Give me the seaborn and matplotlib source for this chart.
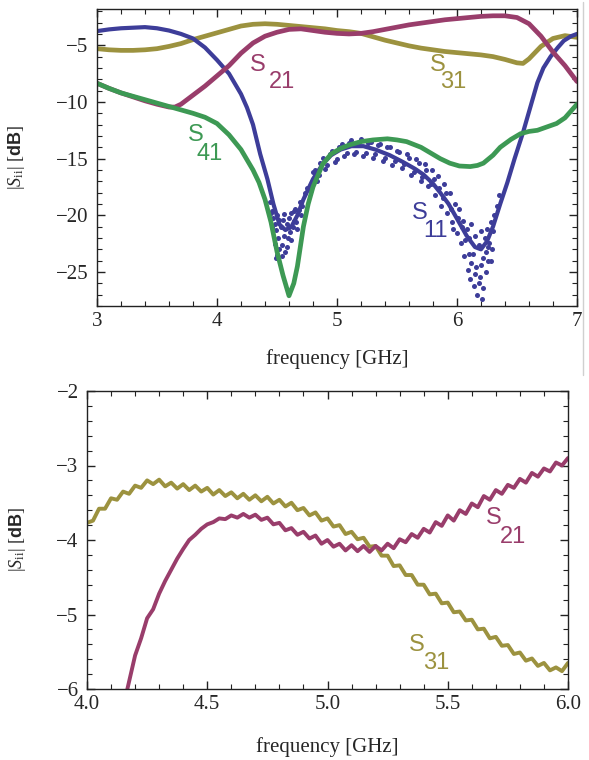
import matplotlib
matplotlib.use('Agg')
import matplotlib.pyplot as plt
import seaborn as sns
import numpy as np
from matplotlib.ticker import MultipleLocator, FuncFormatter
from matplotlib.lines import Line2D

# --- верхняя панель: S-параметры 3..7 ГГц ---
s11_freq = [3.0, 3.1, 3.2, 3.3, 3.4, 3.5, 3.6, 3.7, 3.8, 3.9, 4.0, 4.1, 4.2, 4.25, 4.3, 4.36,
            4.42, 4.47, 4.52, 4.57, 4.62, 4.67, 4.72, 4.8, 4.88, 4.95, 5.03, 5.12, 5.22, 5.32,
            5.44, 5.55, 5.65, 5.72, 5.8, 5.86, 5.93, 6.0, 6.08, 6.15, 6.2, 6.25, 6.3, 6.36,
            6.42, 6.48, 6.55, 6.61, 6.67, 6.72, 6.78, 6.84, 6.89, 6.95, 7.0]
s11_db = [-3.75, -3.6, -3.5, -3.45, -3.4, -3.5, -3.7, -4.0, -4.4, -5.2, -6.3, -7.5, -9.3, -10.5,
          -12.0, -14.6, -16.8, -19.0, -20.8, -21.3, -21.0, -20.0, -18.6, -16.8, -15.5, -14.7,
          -14.2, -13.9, -13.9, -14.2, -14.7, -15.3, -15.9, -16.4, -17.2, -18.0, -19.0, -20.3,
          -21.8, -22.8, -23.0, -22.3, -21.0, -19.0, -17.1, -15.0, -12.7, -10.5, -8.3, -7.0,
          -6.0, -5.2, -4.6, -4.2, -4.0]

# разброс точек S11 в провалах
s11_scatter_freq = [4.45, 4.46, 4.47, 4.48, 4.49, 4.50, 4.50, 4.51, 4.52, 4.53, 4.54, 4.55, 4.56,
                    4.57, 4.58, 4.59, 4.60, 4.61, 4.62, 4.63, 4.64, 4.65, 4.66, 4.68, 4.69, 4.71,
                    4.73, 4.75,
                    4.44, 4.46, 4.48, 4.49, 4.52, 4.54, 4.56, 4.58, 4.60, 4.62, 4.64, 4.67, 4.70,
                    4.80, 4.83, 4.86, 4.90, 4.94, 4.98, 5.02, 5.06, 5.10, 5.14, 5.18, 5.22, 5.26,
                    5.30, 5.34, 5.38, 5.42, 5.46, 5.50, 5.54, 5.58, 5.62, 5.66, 5.70, 5.73, 5.76,
                    5.79, 5.82, 5.84, 5.87, 5.89, 5.92,
                    4.78, 4.82, 4.85, 4.88, 4.92, 4.96, 5.00, 5.04, 5.08, 5.12, 5.16, 5.20, 5.24,
                    5.28, 5.32, 5.36, 5.40, 5.44, 5.48, 5.52, 5.56, 5.60, 5.64, 5.68, 5.71, 5.74,
                    5.78, 5.81, 5.85, 5.88, 5.91,
                    5.94, 5.96, 5.98, 6.00, 6.02, 6.03, 6.05, 6.06, 6.08, 6.09, 6.10, 6.11, 6.12,
                    6.13, 6.14, 6.15, 6.16, 6.17, 6.18, 6.19, 6.20, 6.21, 6.22, 6.23, 6.24, 6.25,
                    6.26, 6.27, 6.28, 6.29, 6.30, 6.31, 6.33, 6.35,
                    5.95, 5.97, 6.01, 6.04, 6.07, 6.10, 6.12, 6.15, 6.18, 6.20, 6.22, 6.24, 6.26,
                    6.28]
s11_scatter_db = [-19.8, -21.0, -20.2, -22.5, -21.3, -23.5, -20.0, -22.0, -23.0, -21.0, -22.6,
                  -20.4, -21.8, -23.2, -20.8, -22.0, -20.2, -21.5, -19.8, -21.0, -20.5, -19.4,
                  -20.6, -19.5, -18.8, -19.2, -18.0, -17.6,
                  -18.8, -19.6, -20.8, -23.8, -20.4, -23.6, -19.9, -22.8, -21.0, -22.2, -19.6,
                  -21.2, -20.0,
                  -16.2, -17.0, -15.4, -15.9, -14.6, -15.3, -14.0, -14.8, -13.6, -14.6, -13.5,
                  -14.8, -13.6, -14.9, -13.8, -15.2, -14.0, -15.6, -14.3, -15.8, -14.6, -16.4,
                  -15.0, -17.0, -15.5, -17.4, -16.0, -18.2, -16.5, -19.2, -17.2, -19.8,
                  -17.8, -16.0, -16.4, -14.9, -15.6, -14.3, -15.0, -13.7, -14.5, -13.4, -14.4,
                  -13.3, -14.5, -13.5, -14.6, -13.7, -14.9, -14.0, -15.2, -14.4, -15.5, -14.9,
                  -16.2, -15.4, -16.6, -16.0, -17.2, -16.8, -17.6, -18.5, -18.0,
                  -18.0, -20.6, -19.0, -21.6, -19.4, -22.4, -20.5, -23.6, -21.2, -24.8, -22.0,
                  -25.6, -20.8, -23.4, -26.2, -21.8, -24.6, -27.0, -22.6, -25.4, -21.4, -27.4,
                  -23.8, -22.0, -25.0, -21.2, -24.0, -22.4, -20.6, -23.0, -21.4, -20.0, -19.2,
                  -18.2,
                  -19.4, -21.2, -20.2, -21.0, -22.2, -23.4, -24.2, -25.2, -26.0, -24.4, -26.4,
                  -23.2, -22.8, -24.0]

s21_freq = [3.0, 3.1, 3.2, 3.3, 3.4, 3.5, 3.6, 3.65, 3.7, 3.75, 3.8, 3.9, 4.0, 4.1, 4.2, 4.3,
            4.4, 4.5, 4.6, 4.7, 4.8, 4.9, 5.0, 5.1, 5.2, 5.3, 5.4, 5.5, 5.6, 5.7, 5.8, 5.9,
            6.0, 6.1, 6.2, 6.3, 6.4, 6.5, 6.6, 6.7, 6.8, 6.9, 7.0]
s21_db = [-8.35, -8.8, -9.2, -9.55, -9.9, -10.2, -10.45, -10.45, -10.2, -9.8, -9.4, -8.6, -7.7,
          -6.8, -5.7, -4.8, -4.2, -3.85, -3.6, -3.55, -3.7, -3.85, -3.95, -4.0, -3.95, -3.8,
          -3.6, -3.4, -3.2, -3.05, -2.9, -2.75, -2.65, -2.55, -2.45, -2.4, -2.4, -2.55, -3.1,
          -4.2, -5.6, -6.8, -8.2]

s31_freq = [3.0, 3.1, 3.2, 3.3, 3.4, 3.5, 3.6, 3.7, 3.8, 3.9, 4.0, 4.1, 4.2, 4.3, 4.4, 4.5,
            4.6, 4.7, 4.8, 4.9, 5.0, 5.1, 5.2, 5.3, 5.4, 5.5, 5.6, 5.7, 5.8, 5.9, 6.0, 6.1,
            6.2, 6.3, 6.4, 6.5, 6.55, 6.6, 6.7, 6.8, 6.9, 7.0]
s31_db = [-5.3, -5.4, -5.45, -5.45, -5.4, -5.3, -5.1, -4.85, -4.5, -4.2, -3.9, -3.6, -3.3,
          -3.15, -3.1, -3.15, -3.25, -3.35, -3.45, -3.55, -3.7, -3.8, -3.95, -4.25, -4.55,
          -4.8, -5.05, -5.25, -5.4, -5.55, -5.65, -5.75, -5.85, -6.0, -6.25, -6.55, -6.6,
          -6.2, -5.1, -4.4, -4.15, -4.3]

s41_freq = [3.0, 3.1, 3.2, 3.3, 3.4, 3.5, 3.6, 3.7, 3.8, 3.9, 4.0, 4.1, 4.2, 4.3, 4.35, 4.4,
            4.45, 4.5, 4.55, 4.6, 4.64, 4.67, 4.72, 4.76, 4.8, 4.88, 4.95, 5.03, 5.1, 5.2,
            5.3, 5.42, 5.5, 5.58, 5.7, 5.78, 5.86, 5.94, 6.02, 6.11, 6.17, 6.22, 6.3, 6.36,
            6.45, 6.53, 6.6, 6.67, 6.75, 6.83, 6.9, 6.95, 7.0]
s41_db = [-8.35, -8.8, -9.2, -9.5, -9.8, -10.1, -10.4, -10.7, -11.0, -11.35, -11.9, -12.9,
          -14.2, -16.0, -17.1, -18.6, -20.6, -23.2, -25.3, -27.1, -26.0, -24.5, -21.0, -19.0,
          -17.5, -15.5, -14.6, -14.1, -13.8, -13.5, -13.35, -13.25, -13.35, -13.5, -14.0,
          -14.5, -15.0, -15.4, -15.65, -15.7, -15.6, -15.4, -14.7, -14.0, -13.3, -12.8,
          -12.6, -12.5, -12.2, -11.9, -11.4, -10.8, -10.2]

# --- нижняя панель: увеличенный фрагмент 4..6 ГГц ---
zoom_s31_freq = [4.000, 4.025, 4.050, 4.075, 4.100, 4.125, 4.150, 4.175, 4.200, 4.225, 4.250,
                 4.275, 4.300, 4.325, 4.350, 4.375, 4.400, 4.425, 4.450, 4.475, 4.500, 4.525,
                 4.550, 4.575, 4.600, 4.625, 4.650, 4.675, 4.700, 4.725, 4.750, 4.775, 4.800,
                 4.825, 4.850, 4.875, 4.900, 4.925, 4.950, 4.975, 5.000, 5.025, 5.050, 5.075,
                 5.100, 5.125, 5.150, 5.175, 5.200, 5.225, 5.250, 5.275, 5.300, 5.325, 5.350,
                 5.375, 5.400, 5.425, 5.450, 5.475, 5.500, 5.525, 5.550, 5.575, 5.600, 5.625,
                 5.650, 5.675, 5.700, 5.725, 5.750, 5.775, 5.800, 5.825, 5.850, 5.875, 5.900,
                 5.925, 5.950, 5.975, 6.000]
zoom_s31_db = [-3.77, -3.74, -3.58, -3.58, -3.44, -3.46, -3.35, -3.38, -3.27, -3.30, -3.20,
               -3.25, -3.19, -3.28, -3.23, -3.31, -3.25, -3.33, -3.27, -3.35, -3.30, -3.39,
               -3.33, -3.41, -3.36, -3.44, -3.38, -3.46, -3.40, -3.48, -3.42, -3.51, -3.46,
               -3.55, -3.50, -3.60, -3.57, -3.67, -3.63, -3.74, -3.71, -3.82, -3.80, -3.92,
               -3.89, -3.99, -3.97, -4.09, -4.08, -4.21, -4.21, -4.35, -4.34, -4.47, -4.47,
               -4.60, -4.60, -4.73, -4.72, -4.85, -4.84, -4.97, -4.96, -5.08, -5.07, -5.20,
               -5.19, -5.32, -5.30, -5.42, -5.41, -5.53, -5.51, -5.62, -5.59, -5.69, -5.65,
               -5.75, -5.71, -5.76, -5.65]

zoom_s21_freq = [4.150, 4.175, 4.200, 4.225, 4.250, 4.275, 4.300, 4.325, 4.350, 4.375, 4.400,
                 4.425, 4.450, 4.475, 4.500, 4.525, 4.550, 4.575, 4.600, 4.625, 4.650, 4.675,
                 4.700, 4.725, 4.750, 4.775, 4.800, 4.825, 4.850, 4.875, 4.900, 4.925, 4.950,
                 4.975, 5.000, 5.025, 5.050, 5.075, 5.100, 5.125, 5.150, 5.175, 5.200, 5.225,
                 5.250, 5.275, 5.300, 5.325, 5.350, 5.375, 5.400, 5.425, 5.450, 5.475, 5.500,
                 5.525, 5.550, 5.575, 5.600, 5.625, 5.650, 5.675, 5.700, 5.725, 5.750, 5.775,
                 5.800, 5.825, 5.850, 5.875, 5.900, 5.925, 5.950, 5.975, 6.000]
zoom_s21_db = [-6.25, -5.90, -5.55, -5.32, -5.05, -4.93, -4.72, -4.55, -4.40, -4.25, -4.12,
               -4.00, -3.93, -3.85, -3.79, -3.76, -3.71, -3.72, -3.67, -3.70, -3.65, -3.70,
               -3.66, -3.73, -3.70, -3.79, -3.77, -3.87, -3.84, -3.93, -3.89, -3.98, -3.94,
               -4.05, -4.00, -4.09, -4.05, -4.14, -4.07, -4.15, -4.08, -4.16, -4.08, -4.14,
               -4.05, -4.11, -3.99, -4.03, -3.92, -3.97, -3.85, -3.90, -3.76, -3.81, -3.67,
               -3.74, -3.60, -3.65, -3.51, -3.56, -3.41, -3.46, -3.33, -3.38, -3.26, -3.30,
               -3.18, -3.23, -3.10, -3.15, -3.04, -3.08, -2.96, -3.00, -2.90]

# цвета как в Mathematica
C_S11 = '#3d3d99'
C_S21 = '#993d6b'
C_S31 = '#9c923f'
C_S41 = '#3d9954'

sns.set_style('ticks')
plt.rcParams['font.family'] = ['Liberation Serif', 'DejaVu Serif']
plt.rcParams['mathtext.fontset'] = 'custom'
plt.rcParams['mathtext.rm'] = 'Liberation Serif'
plt.rcParams['mathtext.it'] = 'Liberation Serif:italic'
plt.rcParams['mathtext.bf'] = 'Liberation Sans:bold'

fig = plt.figure(figsize=(5.89, 7.6), dpi=100)
ax1 = fig.add_axes([97 / 589, 1 - 306 / 760, 480 / 589, 297 / 760])
ax2 = fig.add_axes([87 / 589, 1 - 689 / 760, 481 / 589, 298 / 760])

LW = 3.4
sns.lineplot(x=s31_freq, y=s31_db, ax=ax1, color=C_S31, lw=LW, estimator=None)
sns.lineplot(x=s11_freq, y=s11_db, ax=ax1, color=C_S11, lw=3.0, estimator=None)
sns.scatterplot(x=s11_scatter_freq, y=s11_scatter_db, ax=ax1, color=C_S11, s=13,
                linewidth=0)
sns.lineplot(x=s21_freq, y=s21_db, ax=ax1, color=C_S21, lw=LW, estimator=None)
sns.lineplot(x=s41_freq, y=s41_db, ax=ax1, color=C_S41, lw=LW, estimator=None)

sns.lineplot(x=zoom_s31_freq, y=zoom_s31_db, ax=ax2, color=C_S31, lw=2.8, estimator=None)
sns.lineplot(x=zoom_s21_freq, y=zoom_s21_db, ax=ax2, color=C_S21, lw=2.8, estimator=None)

def label(ax, x, y, sub, dx, dy, color):
    ax.text(x, y, 'S', color=color, fontsize=17, family='Liberation Sans',
            ha='center', va='center')
    ax.text(x + dx, y + dy, sub, color=color, fontsize=17, family='Liberation Sans',
            ha='center', va='center')

label(ax1, 4.34, -6.75, '21', 0.2, -1.5, C_S21)
label(ax1, 5.84, -6.75, '31', 0.13, -1.5, C_S31)
label(ax1, 3.82, -12.9, '41', 0.12, -1.7, C_S41)
label(ax1, 5.69, -19.8, '11', 0.13, -1.6, C_S11)
label(ax2, 5.69, -3.70, '21', 0.08, -0.26, C_S21)
label(ax2, 5.37, -5.41, '31', 0.08, -0.24, C_S31)


def fmt(decimals):
    return FuncFormatter(lambda v, p: f'{v:.{decimals}f}'.replace('-', '\u2212'))


ax1.set_xlim(3, 7)
ax1.set_ylim(-28, -1.8)
ax1.xaxis.set_major_locator(MultipleLocator(1))
ax1.xaxis.set_minor_locator(MultipleLocator(0.2))
ax1.yaxis.set_major_locator(MultipleLocator(5))
ax1.yaxis.set_minor_locator(MultipleLocator(1))
ax1.xaxis.set_major_formatter(fmt(0))
ax1.yaxis.set_major_formatter(fmt(0))

ax2.set_xlim(4, 6)
ax2.set_ylim(-6, -2)
ax2.xaxis.set_major_locator(MultipleLocator(0.5))
ax2.xaxis.set_minor_locator(MultipleLocator(0.1))
ax2.yaxis.set_major_locator(MultipleLocator(1))
ax2.yaxis.set_minor_locator(MultipleLocator(0.2))
ax2.xaxis.set_major_formatter(fmt(1))
ax2.yaxis.set_major_formatter(fmt(0))

for ax, lab_x, lab_y in [(ax1, -0.146, -0.145), (ax2, -0.123, -0.16)]:
    ax.tick_params(which='both', direction='in', top=True, right=True, color='#222222')
    ax.tick_params(which='major', length=6, width=1)
    ax.tick_params(which='minor', length=3.5, width=0.8)
    ax.tick_params(axis='both', which='major', labelsize=15)
    ax.tick_params(axis='x', pad=4)
    ax.tick_params(axis='y', pad=6)
    for sp in ax.spines.values():
        sp.set_visible(True)
        sp.set_linewidth(1.0)
        sp.set_color('#222222')
    ax.set_xlabel('frequency [GHz]', fontsize=15)
    ax.set_ylabel(r'$|S_{\mathrm{ii}}|$ [$\mathbf{dB}$]', fontsize=13)
    ax.xaxis.set_label_coords(0.5, lab_y)
    ax.yaxis.set_label_coords(lab_x, 0.5)

# тонкая серая линия справа от верхнего графика (как на исходнике)
fig.add_artist(Line2D([583 / 589, 583 / 589], [1 - 2 / 760, 1 - 375 / 760],
                      transform=fig.transFigure, color='#d0d0d0', lw=1))

fig.savefig('out.png', dpi=100)
